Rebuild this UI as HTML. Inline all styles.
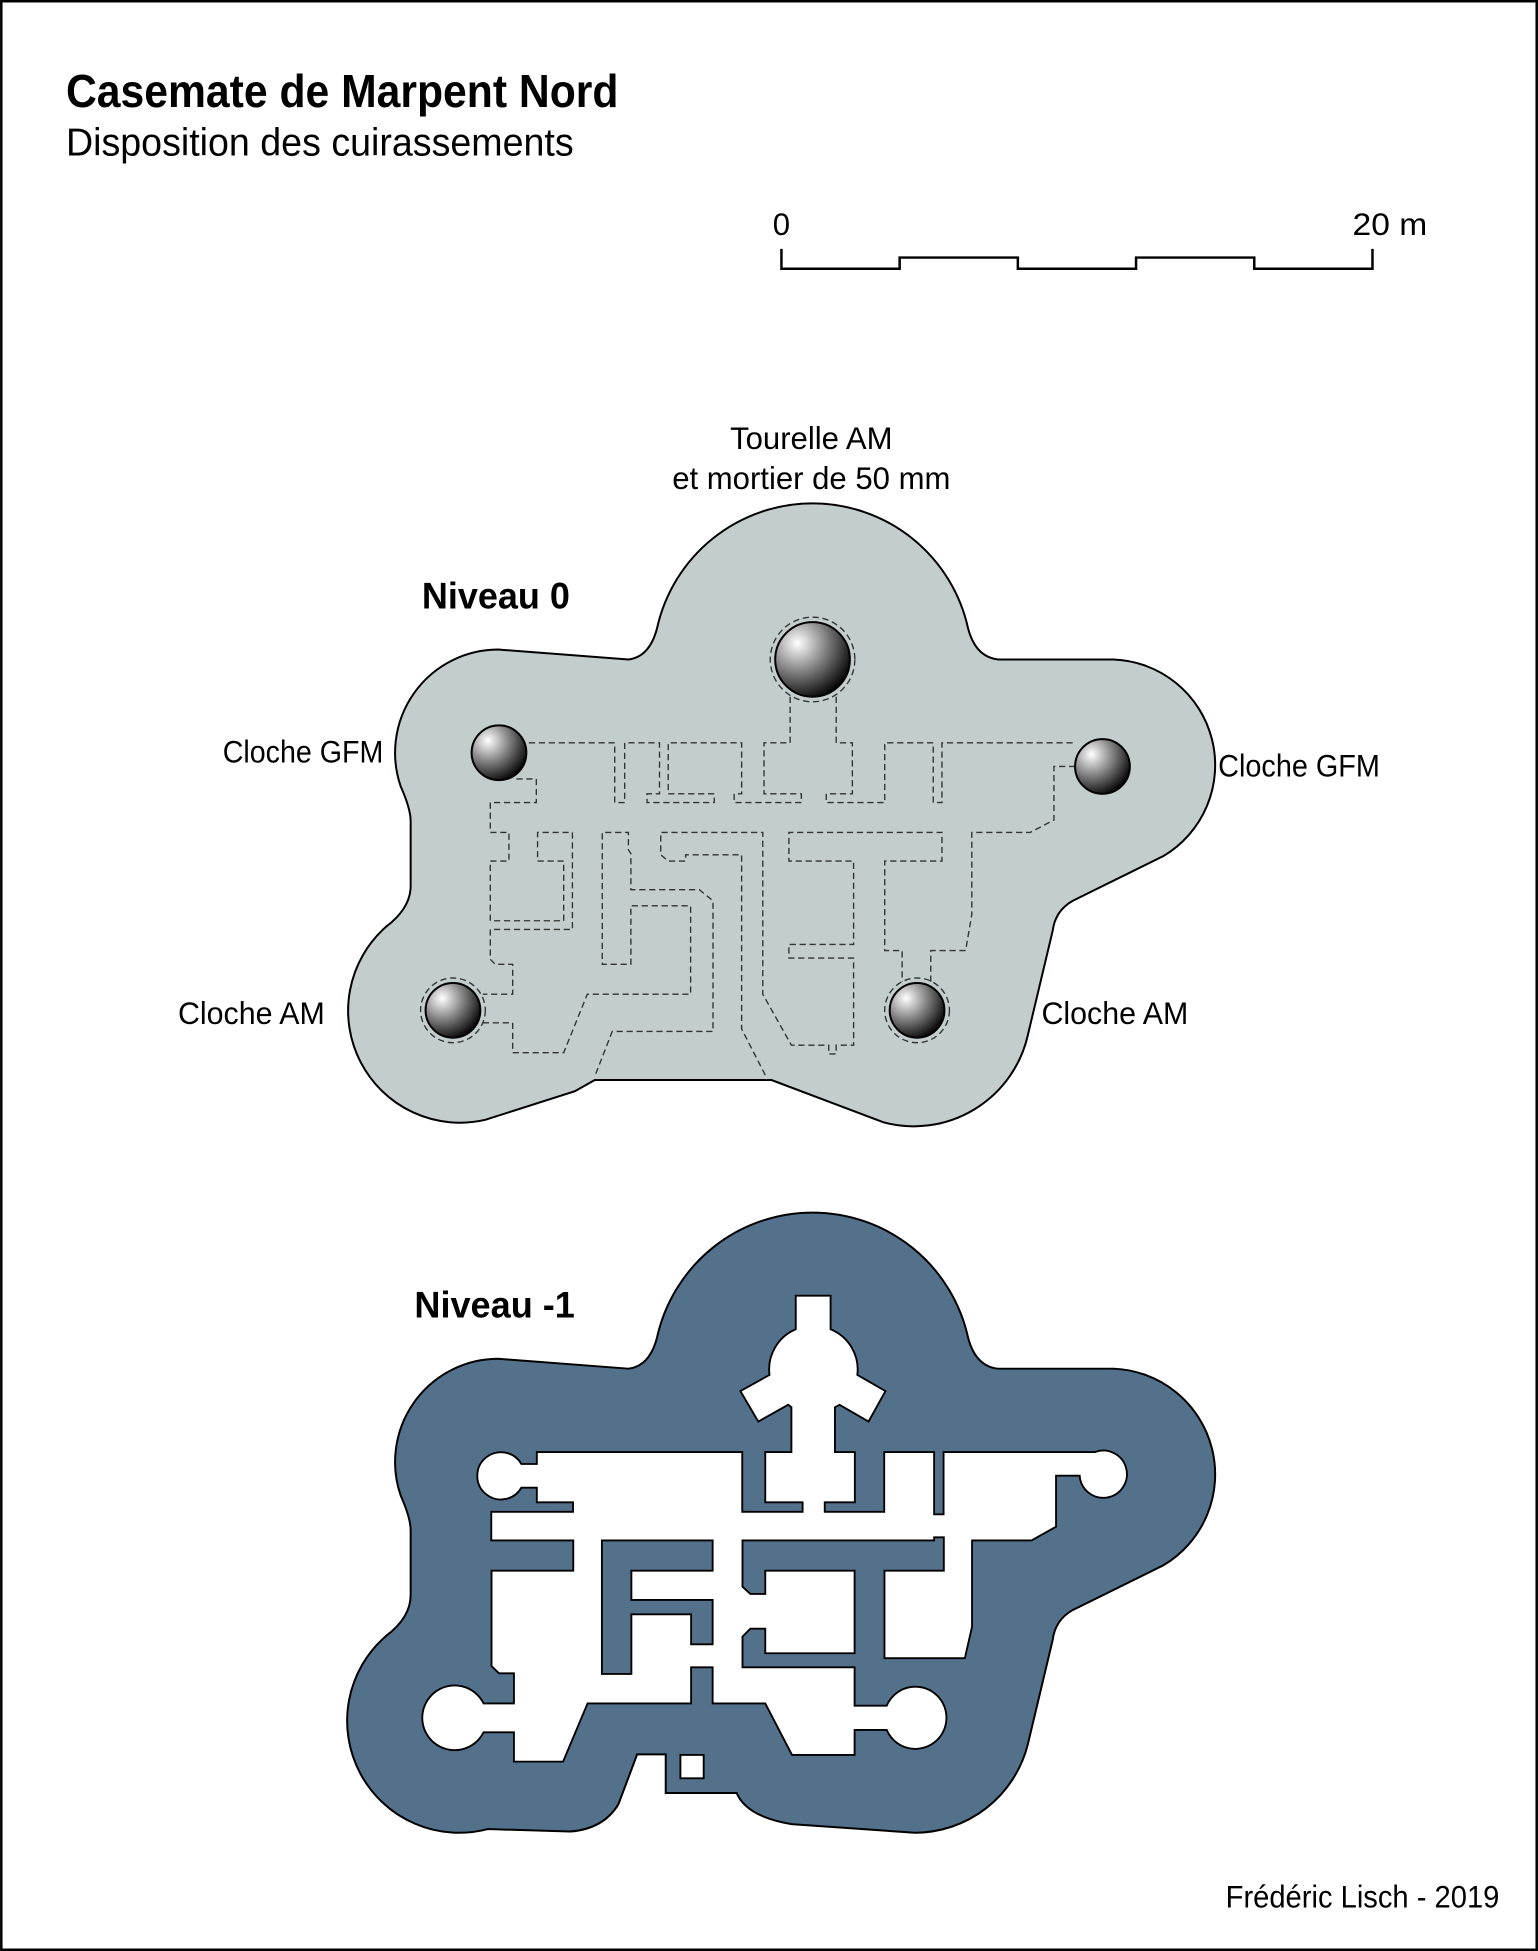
<!DOCTYPE html>
<html><head><meta charset="utf-8"><style>
html,body{margin:0;padding:0;background:#fff}
svg{display:block}
text{font-family:"Liberation Sans Narrow","Liberation Sans",sans-serif;fill:#000}
</style></head><body>
<svg width="1538" height="1951" viewBox="0 0 1236 1568" xmlns="http://www.w3.org/2000/svg">
<defs>
<radialGradient id="g" cx="0.3" cy="0.28" r="0.8">
<stop offset="0" stop-color="#ffffff"/><stop offset="0.45" stop-color="#8a8a8a"/><stop offset="1" stop-color="#000"/>
</radialGradient>
</defs>
<rect x="1" y="1" width="1234" height="1566" fill="#fff" stroke="#000" stroke-width="2"/>

<text x="53" y="86" font-size="37" font-weight="bold" textLength="444" lengthAdjust="spacingAndGlyphs">Casemate de Marpent Nord</text>
<text x="53" y="125" font-size="31" textLength="408" lengthAdjust="spacingAndGlyphs">Disposition des cuirassements</text>

<!-- scale bar -->
<text x="628" y="189" font-size="25" text-anchor="middle">0</text>
<text x="1117" y="189" font-size="25" text-anchor="middle" textLength="60" lengthAdjust="spacingAndGlyphs">20 m</text>
<path d="M628,200 V216 H723 V207 H818 V216 H913 V207 H1008 V216 H1103 V200" fill="none" stroke="#000" stroke-width="2"/>

<!-- Niveau 0 -->
<path d="M400,522 L505,530 Q522,528 528,505 A128 128 0 0 1 778,505 Q784,528 802,530 L895,530 A85 85 0 0 1 935,688 L862,724 Q848,732 846,748 L826,832 A94 94 0 0 1 710,902 L620,868 L478,868 L462,877 L390,900 A90 90 0 0 1 310,745 Q330,730 330,712 L330,660 Q330,650 322,632 A83 83 0 0 1 400,522 Z" fill="#c3cdcd" stroke="#000" stroke-width="1.6"/>
<g fill="none" stroke="#333" stroke-width="1.1" stroke-dasharray="5,3">
<path d="M425,597 H494 V645 H502 V597 H530 V638 H520 V645 H574 V638 H537 V597 H596 V638 H590 V645 H644 V638 H614 V597 H635 V560"/>
<path d="M672,560 V597 H685 V638 H664 V645 H711 V597 H750 V645 H757 V597 H864"/>
<path d="M415,626 H431 V645 H394 V669 H409 V692 H394 V740 H453 V692 H432 V669 H460 V747 H394 V771 L398,775 H412 V799 H388"/>
<path d="M388,822 H412 V846 H453 L472,799 H555 V728 H507 V775 H484 V669 H505 V683 L507,686 V715 H562 L573,724 V829 H492 L478,865"/>
<path d="M615,864 L596,827 V687 H551 V692 H537 L531,687 V669 H613 V799 L636,840 H666 V847 H672 V840 H686 V770 H634 V759 H686 V692 H634 V669 H757 V692 H711 V764 H725 V789"/>
<path d="M748,789 V764 H776 L781,735 V669 H828 L847,659 V616 H864"/>
<circle cx="653" cy="530" r="34"/>
<circle cx="364" cy="812" r="26"/>
<circle cx="737" cy="812" r="26"/>
</g>
<g stroke="#000" stroke-width="1.6" fill="url(#g)">
<circle cx="653" cy="530" r="30"/>
<circle cx="401" cy="605" r="22"/>
<circle cx="886" cy="616" r="22"/>
<circle cx="364" cy="812" r="22"/>
<circle cx="737" cy="812" r="22"/>
</g>
<text x="652" y="361" font-size="25" text-anchor="middle">Tourelle AM</text>
<text x="652" y="393" font-size="25" text-anchor="middle">et mortier de 50 mm</text>
<text x="339" y="489" font-size="30" font-weight="bold" textLength="119" lengthAdjust="spacingAndGlyphs">Niveau 0</text>
<text x="179" y="613" font-size="25" textLength="129" lengthAdjust="spacingAndGlyphs">Cloche GFM</text>
<text x="979" y="624" font-size="25" textLength="130" lengthAdjust="spacingAndGlyphs">Cloche GFM</text>
<text x="143" y="823" font-size="25" textLength="118" lengthAdjust="spacingAndGlyphs">Cloche AM</text>
<text x="837" y="823" font-size="25" textLength="118" lengthAdjust="spacingAndGlyphs">Cloche AM</text>

<!-- Niveau -1 -->
<path d="M400,1092 L505,1100 Q522,1098 528,1075 A128 128 0 0 1 778,1075 Q784,1098 802,1100 L895,1100 A85 85 0 0 1 935,1258 L862,1294 Q848,1302 846,1318 L826,1402 A94 94 0 0 1 735,1473 L636,1466 Q600,1460 592,1441 L535,1441 L535,1410 L512,1410 L497,1450 Q485,1470 458,1472 L392,1470 A90 90 0 0 1 310,1315 Q330,1300 330,1282 L330,1230 Q330,1220 322,1202 A83 83 0 0 1 400,1092 Z" fill="#54718c" stroke="#000" stroke-width="1.6"/>
<path d="M639.5,1041.3 H667.5 V1068.3 A35 35 0 0 1 689,1105 L711.6,1118 L698,1142.5 L674.7,1129 L671,1131 V1167 H687 V1207.4 H662.8 V1215 H710.6 V1167 H750.7 V1217 H758.3 V1167 H880 A19 19 0 1 1 867.7,1186 H848.7 V1227 L829,1238 H781.2 V1307.3 L775.4,1332.7 H710.8 V1262.3 H758.5 V1235.5 H750.7 V1238 H596.7 V1275.2 L603,1281 H615 V1262.3 H686.8 V1328.7 H615 V1309 H603 L596.7,1315.3 V1340 H686.8 V1370.8 H712.6 A25 25 0 1 1 712.6,1390.3 H686.8 V1410.4 H636.5 L615,1369 H572.7 V1340 H555.4 V1369 H472.2 L452.5,1415.8 H413 V1392.2 H388.6 A26 26 0 1 1 388.6,1369 H413 V1344.8 H401 L395,1339 V1262.3 H460.7 V1238 H394.8 V1215 H460.5 V1207.4 H431.4 V1195.6 H419 A19 19 0 1 1 419,1176.6 H431.4 V1167 H596.5 V1215 H645 V1207.4 H615 V1167 H636 V1131 L633.4,1129 L609.4,1142.5 L595,1118 L618.4,1105 A35 35 0 0 1 639.5,1068.3 Z" fill="#fff" stroke="#000" stroke-width="1.5"/>
<path d="M483.7,1238 H572.7 V1262.3 H507.4 V1285.9 H572.7 V1321.5 H555.4 V1297.4 H507.4 V1345.3 H483.7 Z" fill="#54718c" stroke="#000" stroke-width="1.5"/>
<rect x="546.8" y="1410.4" width="18.7" height="18.8" fill="#fff" stroke="#000" stroke-width="1.5"/>
<text x="333" y="1059" font-size="30" font-weight="bold" textLength="129" lengthAdjust="spacingAndGlyphs">Niveau -1</text>

<text x="985" y="1533" font-size="25" textLength="220" lengthAdjust="spacingAndGlyphs">Frédéric Lisch - 2019</text>
</svg>
</body></html>
